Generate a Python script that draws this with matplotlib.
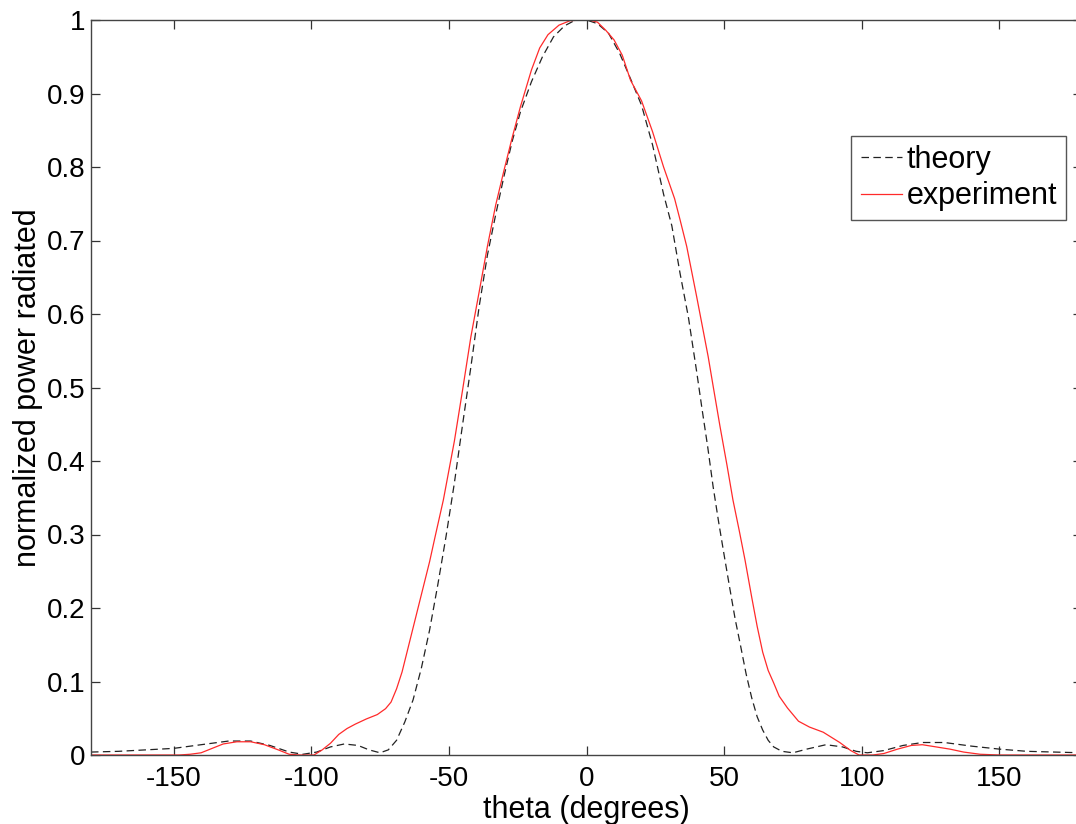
"""
Radiation pattern: theory vs experiment
=======================================
Normalized power radiated against angle, redrawn as out.png.
"""

import matplotlib
matplotlib.use("Agg")
import matplotlib.pyplot as plt
from matplotlib.ticker import FormatStrFormatter


# ─────────────────────────────────────────────
# DATA
# ─────────────────────────────────────────────

theta_theory = [
    -180, -170, -160, -150, -140, -130, -122, -115, -108, -103,
    -98, -93, -88, -83, -79, -75, -72, -69, -66, -63,
    -60, -57, -54, -51, -48, -45, -42, -39, -36, -33,
    -30, -27, -24, -20, -16, -12, -8, -4, 0, 4,
    8, 12, 16, 20, 24, 28, 31, 34, 37, 40,
    42, 44, 46, 48, 50, 52, 54, 56, 58, 60,
    62, 64, 66, 68, 71, 75, 80, 87, 93, 98,
    102, 108, 115, 122, 130, 140, 150, 160, 170, 180,
]
power_theory = [
    0.004, 0.005, 0.007, 0.009, 0.014, 0.019, 0.019, 0.013, 0.004, 0.001,
    0.004, 0.011, 0.015, 0.013, 0.007, 0.003, 0.007, 0.020, 0.045, 0.075,
    0.118, 0.170, 0.232, 0.298, 0.370, 0.450, 0.528, 0.610, 0.680, 0.735,
    0.787, 0.835, 0.875, 0.916, 0.950, 0.977, 0.992, 1.000, 1.000, 0.995,
    0.982, 0.955, 0.920, 0.884, 0.830, 0.763, 0.720, 0.655, 0.596, 0.522,
    0.470, 0.420, 0.365, 0.317, 0.272, 0.228, 0.185, 0.148, 0.110, 0.078,
    0.052, 0.034, 0.020, 0.011, 0.005, 0.003, 0.008, 0.014, 0.011, 0.005,
    0.003, 0.006, 0.013, 0.017, 0.017, 0.012, 0.008, 0.005, 0.004, 0.003,
]

theta_experiment = [
    -180, -160, -148, -144, -140, -136, -132, -127, -122, -117,
    -112, -108, -104, -99, -96, -93, -90, -87, -84, -80,
    -76, -73, -71, -69, -67, -65, -63, -61, -59, -57,
    -55, -52, -48, -45, -42, -39, -36, -33, -30, -27,
    -24, -20, -17, -14, -10, -6, -2, 1, 4, 7,
    10, 13, 16, 20, 24, 28, 32, 34, 36.4, 40,
    42, 44.2, 46, 48.5, 51, 53.2, 55.5, 57.6, 60, 62,
    64, 66, 68, 70, 73, 77, 81, 86, 89, 92,
    96, 99, 104, 108, 113, 118, 122, 127, 132, 137,
    143, 150, 180,
]
power_experiment = [
    0.000, 0.000, 0.000, 0.001, 0.003, 0.009, 0.015, 0.018, 0.018, 0.014,
    0.007, 0.001, 0.000, 0.000, 0.007, 0.016, 0.028, 0.036, 0.042, 0.049,
    0.055, 0.063, 0.072, 0.090, 0.113, 0.143, 0.173, 0.203, 0.233, 0.263,
    0.297, 0.347, 0.427, 0.497, 0.569, 0.630, 0.692, 0.748, 0.795, 0.840,
    0.882, 0.932, 0.962, 0.980, 0.993, 0.999, 1.000, 1.000, 0.997, 0.986,
    0.973, 0.952, 0.918, 0.890, 0.848, 0.800, 0.757, 0.728, 0.692, 0.624,
    0.585, 0.542, 0.502, 0.447, 0.395, 0.347, 0.305, 0.265, 0.215, 0.175,
    0.140, 0.115, 0.098, 0.080, 0.064, 0.046, 0.038, 0.031, 0.024, 0.017,
    0.006, 0.000, 0.000, 0.002, 0.008, 0.013, 0.014, 0.011, 0.008, 0.004,
    0.001, 0.000, 0.000,
]

x_ticks = [-150, -100, -50, 0, 50, 100, 150]
y_ticks = [0.0, 0.1, 0.2, 0.3, 0.4, 0.5, 0.6, 0.7, 0.8, 0.9, 1.0]


# ─────────────────────────────────────────────
# PLOT
# ─────────────────────────────────────────────

plt.rcParams["font.family"] = ["Liberation Sans", "DejaVu Sans"]
plt.rcParams["font.size"] = 20
plt.rcParams["axes.unicode_minus"] = False  # plain hyphen, like the original

fig = plt.figure(figsize=(10.76, 8.24), dpi=100)
# axes run a little past the right edge, like the cropped original
ax = fig.add_axes([91 / 1076, 69 / 824, 991 / 1076, 735 / 824])

ax.plot(theta_theory, power_theory, color="#222222", linestyle=(0, (6, 3.5)),
        linewidth=0.9, label="theory")
ax.plot(theta_experiment, power_experiment, color="#ff2a2a", linestyle="-",
        linewidth=0.9, label="experiment")

ax.set_xlim(-180, 180)
ax.set_ylim(0, 1)
ax.set_xticks(x_ticks)
ax.set_yticks(y_ticks)
ax.yaxis.set_major_formatter(FormatStrFormatter("%g"))

ax.tick_params(direction="in", length=6.5, width=0.9, color="#333333",
               top=True, right=True, labelsize=20)
ax.tick_params(axis="x", pad=8)
ax.tick_params(axis="y", pad=4)
for spine in ax.spines.values():
    spine.set_color("#444444")
    spine.set_linewidth(1.0)

ax.set_xlabel("theta (degrees)", fontsize=22, labelpad=2)
ax.set_ylabel("normalized power radiated", fontsize=22, labelpad=3)

leg = ax.legend(loc="upper right", bbox_to_anchor=(1066 / 1076, 1 - 136 / 824),
                bbox_transform=fig.transFigure, fontsize=22, fancybox=False,
                framealpha=1, edgecolor="#555555", borderpad=0.3,
                borderaxespad=0, labelspacing=0.2, handlelength=1.35,
                handletextpad=0.15)
leg.get_frame().set_linewidth(1.0)

fig.savefig("out.png", dpi=100)
plt.close(fig)
print("[SAVED] out.png")
